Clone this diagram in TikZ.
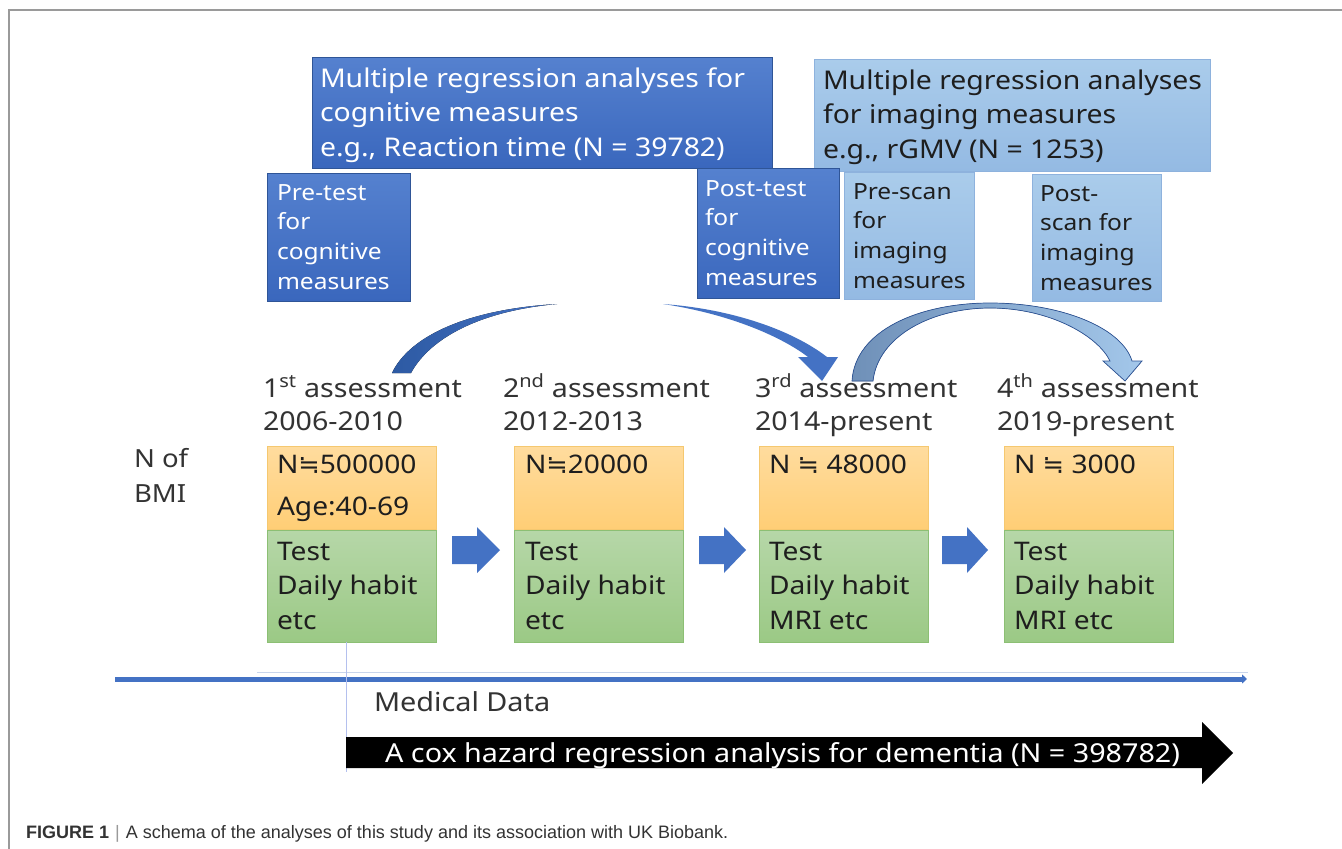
\documentclass[tikz,border=0pt]{standalone}
\usepackage{fontspec}
\setmainfont{Noto Sans}[FakeStretch=1.1]
\newfontfamily\symfont{DejaVu Sans}
\newfontfamily\capsans{Liberation Sans}
\newcommand{\neareq}{{\symfont ≒}}
\usetikzlibrary{arrows.meta}

\definecolor{cogtop}{HTML}{5581CF}
\definecolor{cogbot}{HTML}{3A67BD}
\definecolor{cogedge}{HTML}{2F5597}
\definecolor{cogfill}{HTML}{4472C4}
\definecolor{cogdark}{HTML}{2D5AA3}
\definecolor{imgtop}{HTML}{AACCEB}
\definecolor{imgbot}{HTML}{94BAE3}
\definecolor{imgedge}{HTML}{8EB2DD}
\definecolor{nbtop}{HTML}{FFDC9E}
\definecolor{nbbot}{HTML}{FFCE76}
\definecolor{nbedge}{HTML}{F5C870}
\definecolor{gbtop}{HTML}{B6D7A8}
\definecolor{gbbot}{HTML}{9BC985}
\definecolor{gbedge}{HTML}{8CBF74}
\definecolor{labelgray}{HTML}{333333}
\definecolor{boxink}{HTML}{1E1E1E}
\definecolor{steel}{HTML}{6F90B8}
\definecolor{paleblue}{HTML}{A3C7EA}
\definecolor{faintline}{HTML}{C8D5EC}
\definecolor{framegray}{HTML}{9A9A9A}

\begin{document}
\begin{tikzpicture}[x=1pt,y=-1pt,
  panel/.style={anchor=north west, inner sep=0pt, outer sep=0pt},
  cogbox/.style={panel, draw=cogedge, line width=0.8pt, top color=cogtop, bottom color=cogbot},
  imgbox/.style={panel, draw=imgedge, line width=0.6pt, top color=imgtop, bottom color=imgbot},
  nbox/.style={panel, draw=nbedge, line width=0.5pt, top color=nbtop, bottom color=nbbot,
    minimum width=169pt, minimum height=83pt},
  gbox/.style={panel, draw=gbedge, line width=0.5pt, top color=gbtop, bottom color=gbbot,
    minimum width=169pt, minimum height=112pt},
  txt/.style={anchor=north west, inner sep=0pt, outer sep=0pt, align=left},
  headtxt/.style={txt, text=white, font=\fontsize{25.8}{34.5}\selectfont},
  imgheadtxt/.style={txt, text=boxink, font=\fontsize{25.8}{34.5}\selectfont},
  smalltxt/.style={txt, text=white, font=\fontsize{22.3}{29.7}\selectfont},
  smallimgtxt/.style={txt, text=boxink, font=\fontsize{22.3}{29.7}\selectfont},
  asstxt/.style={txt, text=labelgray, font=\fontsize{26}{33}\selectfont},
  cntxt/.style={txt, text=boxink, font=\fontsize{25.6}{42}\selectfont},
  habtxt/.style={txt, text=boxink, font=\fontsize{25.6}{34.5}\selectfont},
  stepshape/.style={fill=cogfill},
]
\useasboundingbox (0,0) rectangle (1342,849);
\fill[white] (0,0) rectangle (1342,849);

% page frame
\draw[framegray, line width=1.2pt] (9,849) -- (9,10) -- (1342,10);

% analysis headers
\node[cogbox, minimum width=460pt, minimum height=111pt] (coghead) at (312,57) {};
\node[headtxt] (coghdtxt) at (320,{87-0.7*34.5})
  {\strut Multiple regression analyses for\\cognitive measures\\e.g., Reaction time (N = 39782)};
\node[imgbox, minimum width=396pt, minimum height=112pt] (imghead) at (814,59) {};
\node[imgheadtxt] (imghdtxt) at (823,{89-0.7*34.5})
  {\strut Multiple regression analyses\\for imaging measures\\e.g., rGMV (N = 1253)};

% pre/post measurement boxes
\node[cogbox, minimum width=143pt, minimum height=128pt] (pretest) at (267,173) {};
\node[smalltxt] (pretesttxt) at (277,{200-0.7*29.7}) {\strut Pre-test\\for\\cognitive\\measures};
\node[cogbox, minimum width=142pt, minimum height=130pt] (posttest) at (697,168) {};
\node[smalltxt] (posttesttxt) at (705,{196-0.7*29.7}) {\strut Post-test\\for\\cognitive\\measures};
\node[imgbox, minimum width=130pt, minimum height=127pt] (prescan) at (844,172) {};
\node[smallimgtxt] (prescantxt) at (853,{199-0.7*29.7}) {\strut Pre-scan\\for\\imaging\\measures};
\node[imgbox, minimum width=129pt, minimum height=127pt] (postscan) at (1032,174) {};
\node[smallimgtxt] (postscantxt) at (1040,{201-0.7*29.7}) {\strut Post-\\scan for\\imaging\\measures};

% curved arrow: cognitive follow-up (1st -> 3rd), tail and head parts
\fill[left color=cogdark, right color=cogfill]
  (392,373) .. controls (410,335) and (470,309) .. (557,304)
  .. controls (480,311) and (430,338) .. (411,373) -- cycle;
\fill[cogfill]
  (663,304) .. controls (732,309) and (792,330) .. (827,357)
  -- (838,357) -- (822,381) -- (798,357) -- (808,357)
  .. controls (782,337) and (730,314) .. (663,304) -- cycle;

% curved arrow: imaging follow-up (3rd -> 4th)
\filldraw[draw=cogedge, line width=0.7pt, left color=steel, right color=paleblue]
  (852,381) .. controls (855,330) and (920,303) .. (990,303)
  .. controls (1062,303) and (1122,328) .. (1132,361)
  -- (1142,361) -- (1125,381) -- (1103,361) -- (1110,361)
  .. controls (1098,336) and (1050,308) .. (990,308)
  .. controls (932,308) and (878,336) .. (873,381) -- cycle;

% assessment labels
\node[asstxt] (a1) at (263,{397-0.7*33}) {\strut 1\textsuperscript{st} assessment\\2006-2010};
\node[asstxt] (a2) at (503,{397-0.7*33}) {\strut 2\textsuperscript{nd} assessment\\2012-2013};
\node[asstxt] (a3) at (755,{397-0.7*33}) {\strut 3\textsuperscript{rd} assessment\\2014-present};
\node[asstxt] (a4) at (997,{397-0.7*33}) {\strut 4\textsuperscript{th} assessment\\2019-present};

\node[txt, text=labelgray, font=\fontsize{25}{35}\selectfont] (nbmi) at (134,{467-0.7*35}) {\strut N of\\BMI};

% participant counts
\node[nbox] (n1) at (267,446) {};
\node[nbox] (n2) at (514,446) {};
\node[nbox] (n3) at (759,446) {};
\node[nbox] (n4) at (1004,446) {};
\node[cntxt] (n1txt) at (277,{473-0.7*42}) {\strut N\neareq500000\\Age:40-69};
\node[cntxt] (n2txt) at (525,{473-0.7*42}) {\strut N\neareq20000};
\node[cntxt] (n3txt) at (769,{473-0.7*42}) {\strut N \neareq{} 48000};
\node[cntxt] (n4txt) at (1014,{473-0.7*42}) {\strut N \neareq{} 3000};

% collected data
\node[gbox] (g1) at (267,530) {};
\node[gbox] (g2) at (514,530) {};
\node[gbox] (g3) at (759,530) {};
\node[gbox] (g4) at (1004,530) {};
\node[habtxt] (g1txt) at (277,{560-0.7*34.5}) {\strut Test\\Daily habit\\etc};
\node[habtxt] (g2txt) at (525,{560-0.7*34.5}) {\strut Test\\Daily habit\\etc};
\node[habtxt] (g3txt) at (769,{560-0.7*34.5}) {\strut Test\\Daily habit\\MRI etc};
\node[habtxt] (g4txt) at (1014,{560-0.7*34.5}) {\strut Test\\Daily habit\\MRI etc};

% block arrows between visits
\foreach \xa/\xb/\xc in {452/477/500, 699/724/746, 942/967/988}{
  \fill[stepshape] (\xa,536) -- (\xb,536) -- (\xb,527) -- (\xc,550) -- (\xb,573) -- (\xb,564) -- (\xa,564) -- cycle;
}

% time line
\coordinate (faintA) at (257,672);
\coordinate (faintB) at (1248,672);
\draw[faintline, line width=0.8pt] (faintA) -- (faintB);
\coordinate (tlA) at (115,679);
\coordinate (tlB) at (1247,679);
\draw[cogfill, line width=5pt, -{Triangle[length=5pt,width=9pt]}] (tlA) -- (tlB);
\coordinate (mdA) at (346,642);
\coordinate (mdB) at (346,772);
\draw[faintline!90!blue, line width=0.7pt] (mdA) -- (mdB);

\node[txt, text=labelgray, font=\fontsize{26.2}{30}\selectfont] (meddata) at (374,{711-0.7*30}) {\strut Medical Data};

% follow-up analysis band
\fill[black] (346,737) -- (1202,737) -- (1202,722) -- (1233,753) -- (1202,784) -- (1202,768) -- (346,768) -- cycle;
\node[anchor=base west, inner sep=0pt, text=white, font=\fontsize{26.1}{30}\selectfont] (cox) at (385,762)
  {A cox hazard regression analysis for dementia (N = 398782)};

% caption
\node[anchor=base west, inner sep=0pt, text=labelgray, font=\capsans\fontsize{18}{21}\selectfont] (caption) at (26,838)
  {\textbf{FIGURE 1}\,\,{\color{framegray}|}\,\,A schema of the analyses of this study and its association with UK Biobank.};
\end{tikzpicture}
\end{document}
